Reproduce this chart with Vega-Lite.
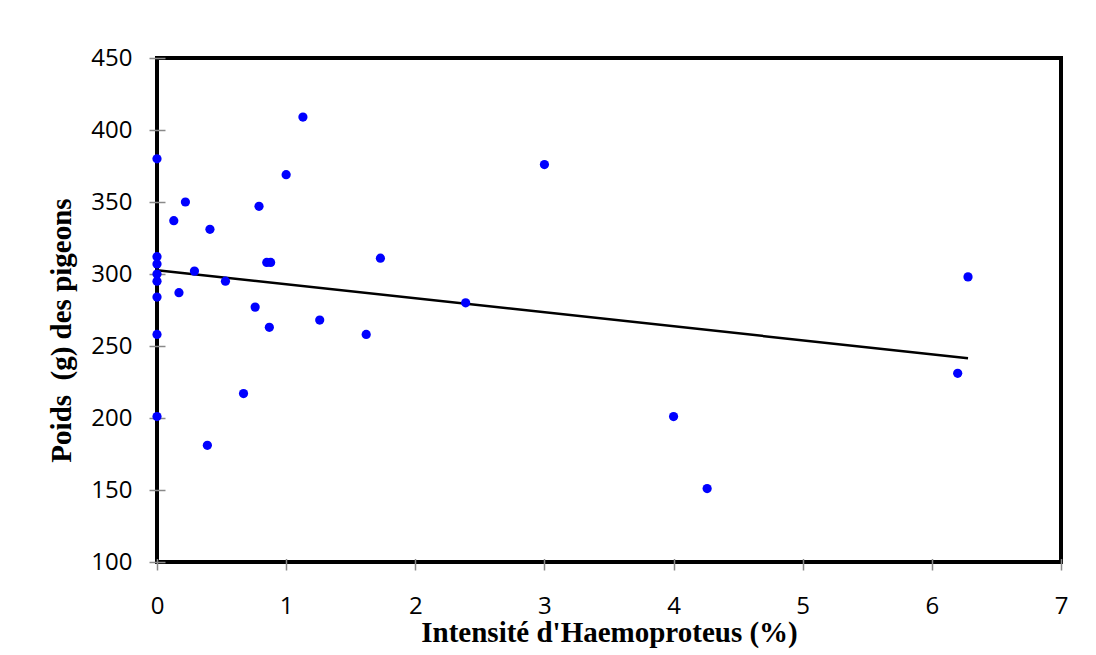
{
  "$schema": "https://vega.github.io/schema/vega-lite/v6.json",
  "width": 904,
  "height": 504,
  "autosize": {"type": "none"},
  "padding": {"left": 157, "top": 58, "right": 35, "bottom": 93},
  "background": "white",
  "config": {
    "view": {"stroke": "black", "strokeWidth": 4},
    "axis": {"grid": false}
  },
  "datasets": {
    "points": [
      {"intensite": 0, "poids": 380},
      {"intensite": 0, "poids": 312},
      {"intensite": 0, "poids": 307},
      {"intensite": 0, "poids": 300},
      {"intensite": 0, "poids": 295},
      {"intensite": 0, "poids": 284},
      {"intensite": 0, "poids": 258},
      {"intensite": 0, "poids": 201},
      {"intensite": 0.13, "poids": 337},
      {"intensite": 0.22, "poids": 350},
      {"intensite": 0.41, "poids": 331},
      {"intensite": 0.29, "poids": 302},
      {"intensite": 0.17, "poids": 287},
      {"intensite": 0.53, "poids": 295},
      {"intensite": 0.79, "poids": 347},
      {"intensite": 1.0, "poids": 369},
      {"intensite": 0.85, "poids": 308},
      {"intensite": 0.88, "poids": 308},
      {"intensite": 0.76, "poids": 277},
      {"intensite": 0.87, "poids": 263},
      {"intensite": 0.67, "poids": 217},
      {"intensite": 0.39, "poids": 181},
      {"intensite": 1.13, "poids": 409},
      {"intensite": 1.73, "poids": 311},
      {"intensite": 1.26, "poids": 268},
      {"intensite": 1.62, "poids": 258},
      {"intensite": 2.39, "poids": 280},
      {"intensite": 3.0, "poids": 376},
      {"intensite": 4.0, "poids": 201},
      {"intensite": 4.26, "poids": 151},
      {"intensite": 6.2, "poids": 231},
      {"intensite": 6.28, "poids": 298}
    ],
    "trend": [
      {"intensite": 0, "poids": 302.6},
      {"intensite": 6.28, "poids": 241.5}
    ]
  },
  "encoding": {
    "x": {
      "field": "intensite",
      "type": "quantitative",
      "scale": {"domain": [0, 7], "nice": false, "zero": false},
      "axis": {
        "title": "Intensité d'Haemoproteus (%)",
        "values": [0, 1, 2, 3, 4, 5, 6, 7],
        "format": "d",
        "domain": false,
        "offset": -3.5,
        "tickSize": 11.5,
        "tickColor": "#8a8a8a",
        "tickWidth": 1.5,
        "labelFont": "Open Sans",
        "labelFontSize": 24,
        "labelColor": "black",
        "labelBaseline": "alphabetic",
        "labelPadding": 43.5,
        "labelFlush": false,
        "labelOverlap": false,
        "titleFont": "Liberation Serif",
        "titleFontSize": 29,
        "titleFontWeight": "bold",
        "titleColor": "black",
        "titleX": 452,
        "titleY": 83,
        "titleAlign": "center",
        "titleBaseline": "alphabetic"
      }
    },
    "y": {
      "field": "poids",
      "type": "quantitative",
      "scale": {"domain": [100, 450], "nice": false, "zero": false},
      "axis": {
        "title": "Poids\u00a0 (g) des pigeons",
        "values": [100, 150, 200, 250, 300, 350, 400, 450],
        "domain": false,
        "offset": -8,
        "tickSize": 16,
        "tickColor": "#8a8a8a",
        "tickWidth": 1.5,
        "labelFont": "Open Sans",
        "labelFontSize": 24,
        "labelColor": "black",
        "labelPadding": 17,
        "labelBaseline": "middle",
        "labelFlush": false,
        "labelOverlap": false,
        "titleFont": "Liberation Serif",
        "titleFontSize": 29,
        "titleFontWeight": "bold",
        "titleColor": "black",
        "titleAngle": 270,
        "titleX": -95,
        "titleY": 272,
        "titleAlign": "center",
        "titleBaseline": "alphabetic"
      }
    }
  },
  "layer": [
    {
      "data": {"name": "trend"},
      "mark": {"type": "line", "color": "black", "strokeWidth": 2.5}
    },
    {
      "data": {"name": "points"},
      "mark": {"type": "circle", "color": "#0000FF", "size": 85, "opacity": 1}
    }
  ]
}
